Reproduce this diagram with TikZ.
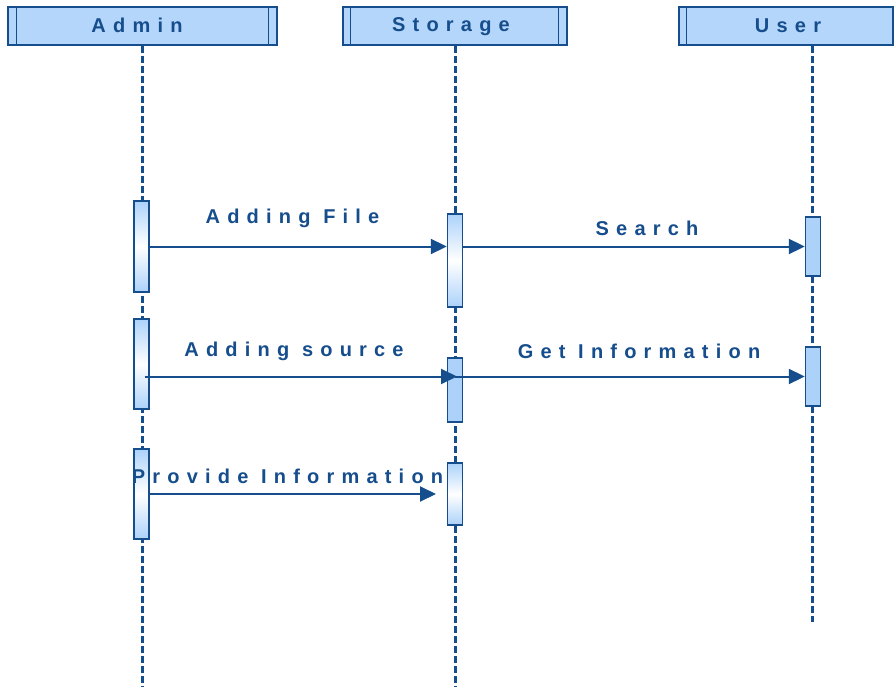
\documentclass[tikz,border=0pt]{standalone}
\usepackage{fontspec}
\setmainfont{Liberation Sans}
\newfontfamily\lblfont[LetterSpace=36,BoldFont={Liberation Sans Bold}]{Liberation Sans}
\usetikzlibrary{arrows.meta}
\definecolor{dkblue}{RGB}{22,77,140}
\definecolor{headblue}{RGB}{179,214,250}
\definecolor{actblue}{RGB}{172,210,250}
\tikzset{
  x=1pt,y=-1pt,
  headbox/.style={draw=dkblue,line width=1.4pt,fill=headblue,minimum height=38pt,inner sep=0pt},
  headline/.style={draw=dkblue,line width=1.4pt},
  lifeline/.style={draw=dkblue,line width=3pt,dash pattern=on 7pt off 3pt},
  actgrad/.style={draw=dkblue,line width=1.4pt,minimum width=15pt,inner sep=0pt,
     top color=actblue,bottom color=actblue,middle color=white},
  actsolid/.style={draw=dkblue,line width=1.4pt,minimum width=15pt,inner sep=0pt,fill=actblue},
  msg/.style={draw=dkblue,line width=2pt,-{Triangle[length=16pt,width=15pt]}},
  lbl/.style={font=\lblfont\bfseries\fontsize{20}{23}\selectfont,text=dkblue,inner sep=0pt,anchor=base},
}
\begin{document}
\begin{tikzpicture}
\useasboundingbox (0,0) rectangle (894,687);
% headers
\node[headbox,minimum width=269pt] (hA) at (142.5,26) {};
\node[headbox,minimum width=224pt] (hS) at (455,26) {};
\node[headbox,minimum width=214pt] (hU) at (786,26) {};
\draw[headline] ([xshift=9pt]hA.north west) -- ([xshift=9pt]hA.south west);
\draw[headline] ([xshift=-9pt]hA.north east) -- ([xshift=-9pt]hA.south east);
\draw[headline] ([xshift=8pt]hS.north west) -- ([xshift=8pt]hS.south west);
\draw[headline] ([xshift=-9pt]hS.north east) -- ([xshift=-9pt]hS.south east);
\draw[headline] ([xshift=8pt]hU.north west) -- ([xshift=8pt]hU.south west);
\node[lbl] (tA) at (137,33) {Admin};
\node[lbl] (tS) at (451,32) {Storage};
\node[lbl] (tU) at (788,33) {User};
% lifelines
\coordinate (eA) at (142,687);
\coordinate (eS) at (455,687);
\coordinate (eU) at (812,622);
\coordinate (sA) at (142,46);
\coordinate (sS) at (455,46);
\coordinate (sU) at (812,46);
\draw[lifeline] (sA) -- (eA);
\draw[lifeline] (sS) -- (eS);
\draw[lifeline] (sU) -- (eU);
% activations
\node[actgrad,minimum height=91pt] (a1) at (141.5,246.5) {};
\node[actgrad,minimum height=93pt] (s1) at (455,260.5) {};
\node[actsolid,minimum height=59pt] (u1) at (813,246.5) {};
\node[actgrad,minimum height=90pt] (a2) at (141.5,364) {};
\node[actsolid,minimum height=64pt] (s2) at (455,390) {};
\node[actsolid,minimum height=59pt] (u2) at (813,376.5) {};
\node[actgrad,minimum height=90pt] (a3) at (141.5,494) {};
\node[actgrad,minimum height=62pt] (s3) at (455,494) {};
% messages
\draw[msg] (a1.east) -- (a1.east -| s1.west);
\draw[msg] (u1.west -| s1.east) -- (u1.west);
\draw[msg] ([xshift=3pt]a2.center |- u2.west) -- ([xshift=2pt]s2.center |- u2.west);
\draw[msg] (s2.center |- u2.west) -- (u2.west);
\coordinate (piend) at (436,494);
\draw[msg] (a3.east) -- (piend);
% labels
\node[lbl] (l1) at (292.5,224) {Adding File};
\node[lbl] (l2) at (647,236) {Search};
\node[lbl] (l3) at (294,356) {Adding source};
\node[lbl] (l4) at (639,358) {Get Information};
\node[lbl] (l5) at (287.5,483) {Provide Information};
\end{tikzpicture}
\end{document}
